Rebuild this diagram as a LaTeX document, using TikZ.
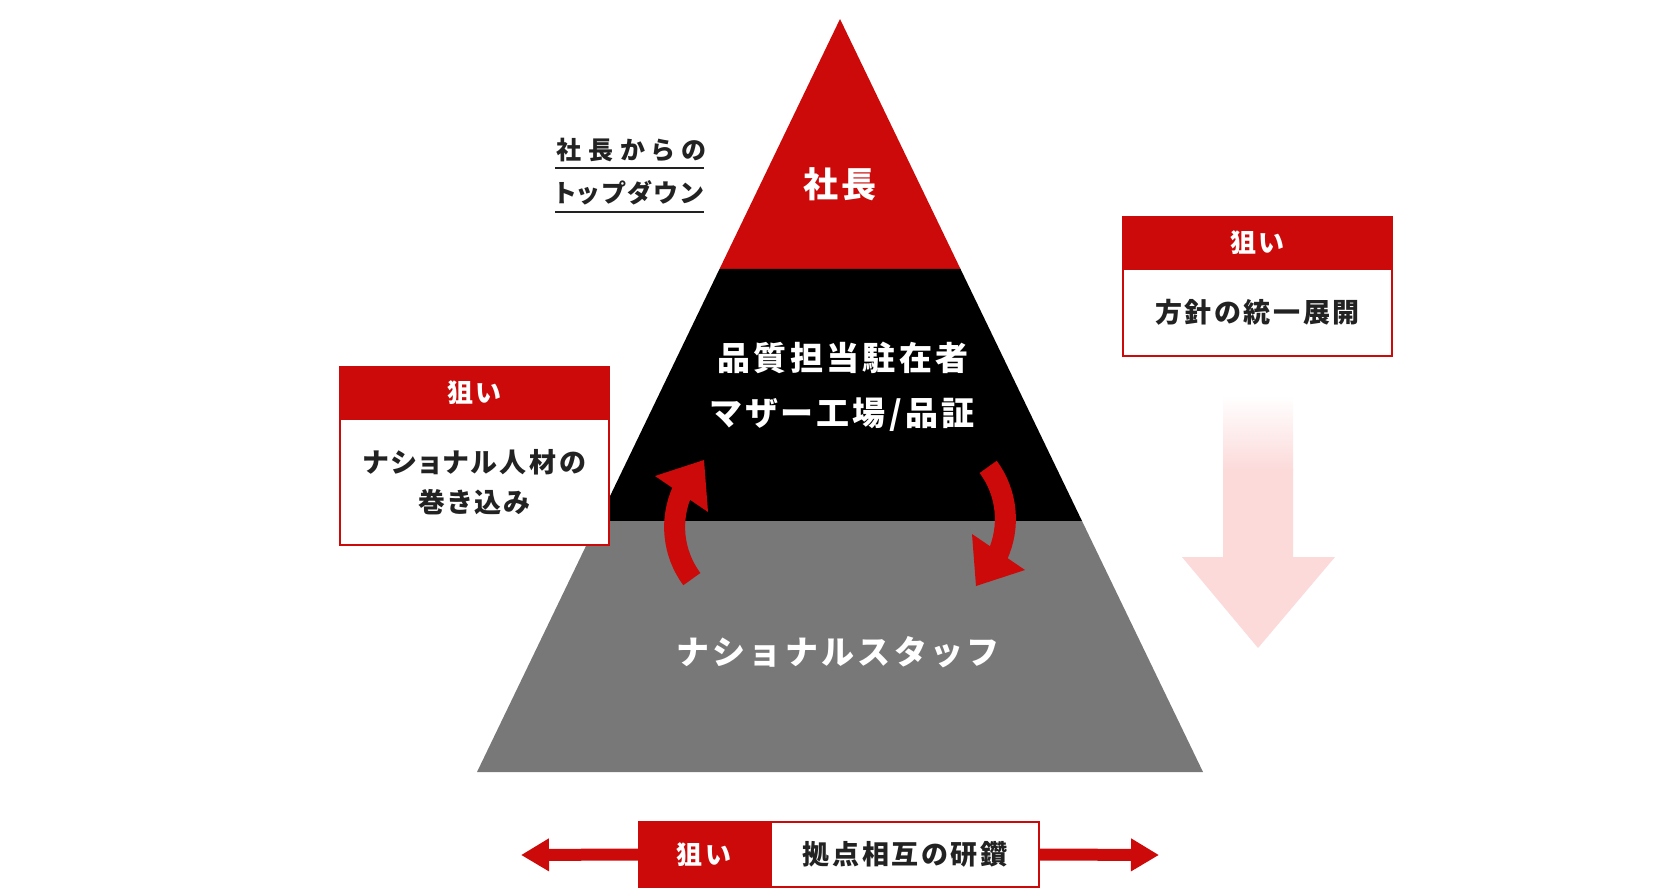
\documentclass[tikz,border=0pt]{standalone}
\usepackage{fontspec}
\usepackage{xcolor}
\usepackage{tikz}
\usetikzlibrary{arrows.meta}
\newfontfamily\jp[RawFeature=+palt,LetterSpace=10]{Noto Sans CJK JP}
\newfontfamily\jpwide[LetterSpace=10]{Noto Sans CJK JP}
\newfontfamily\jpspread[RawFeature=+palt,LetterSpace=28]{Noto Sans CJK JP}
\definecolor{qred}{HTML}{CC0A0A}
\definecolor{qgray}{HTML}{787878}
\definecolor{qpink}{HTML}{FCDADA}
\definecolor{qink}{HTML}{222222}
\tikzset{
  bigtxt/.style={text=white,font=\jp\bfseries\fontsize{33}{40}\selectfont},
  aimhead/.style={fill=qred,text=white,minimum width=271,minimum height=53,font=\jp\bfseries\fontsize{26}{30}\selectfont},
  aimbody/.style={draw=qred,line width=2,fill=white,text=qink,minimum width=269,align=center,font=\jp\bfseries\fontsize{27}{40}\selectfont},
}

\begin{document}
\begin{tikzpicture}[x=1pt,y=-1pt,every node/.style={inner sep=0pt}]
  \useasboundingbox (0,0) rectangle (1680,890);
  \fill[qred] (840,19) -- (960.5,269) -- (719.5,269) -- cycle;
  \fill[black] (719.5,269) -- (960.5,269) -- (1082,521) -- (598,521) -- cycle;
  \fill[qgray] (598,521) -- (1082,521) -- (1203,772) -- (477,772) -- cycle;
  \node[bigtxt,font=\jp\bfseries\fontsize{35}{40}\selectfont] (shacho) at (840,184) {社長};
  \node[bigtxt] (chuzai) at (843,358) {品質担当駐在者};
  \node[bigtxt] (mother) at (843,415) {マザー工場/品証};
  \node[bigtxt,font=\jpwide\bfseries\fontsize{33}{40}\selectfont] (staff) at (838,652) {ナショナルスタッフ};
  \draw[qred,line width=21] (762,527) ++(143.4:87.4) arc[start angle=143.4,end angle=205,radius=87.4];
  \fill[qred] (655,476) -- (704,460) -- (708,512) -- cycle;
  \draw[qred,line width=21] (918,519) ++(-36.6:87.4) arc[start angle=-36.6,end angle=25,radius=87.4];
  \fill[qred] (972,534) -- (1025,570) -- (976,586) -- cycle;
  \node[text=qink,font=\jpspread\bfseries\fontsize{25}{30}\selectfont] (topdown1) at (631,150) {社長からの};
  \node[text=qink,font=\jp\bfseries\fontsize{25}{30}\selectfont] (topdown2) at (629,193) {トップダウン};
  \draw[qink,line width=2] (555,168) -- (704,168);
  \draw[qink,line width=2] (555,212) -- (704,212);
  \node[aimhead] (aim1) at (1257.5,242.5) {狙い};
  \node[aimbody,minimum height=87] (aim1body) at (1257.5,312.5) {方針の統一展開};
  \node[aimhead] (aim2) at (474.5,392.5) {狙い};
  \node[aimbody,minimum height=126] (aim2body) at (474.5,482) {ナショナル人材の\\巻き込み};
  \shade[top color=white,bottom color=qpink] (1223,396) rectangle (1293,470);
  \fill[qpink] (1223,469) -- (1293,469) -- (1293,557) -- (1335,557) -- (1258,648) -- (1182,557) -- (1223,557) -- cycle;
  \node[aimhead,minimum width=132,minimum height=67] (aim3) at (704,854.5) {狙い};
  \node[aimbody,minimum width=268,minimum height=65] (aim3body) at (905,854.5) {拠点相互の研鑽};
  \coordinate (leftend) at (521,855);
  \coordinate (rightend) at (1159,855);
  \draw[qred,line width=12,-{Triangle[length=28pt,width=31pt]}] (aim3.west) -- (leftend);
  \draw[qred,line width=12,-{Triangle[length=28pt,width=31pt]}] (aim3body.east) -- (rightend);
\end{tikzpicture}
\end{document}
